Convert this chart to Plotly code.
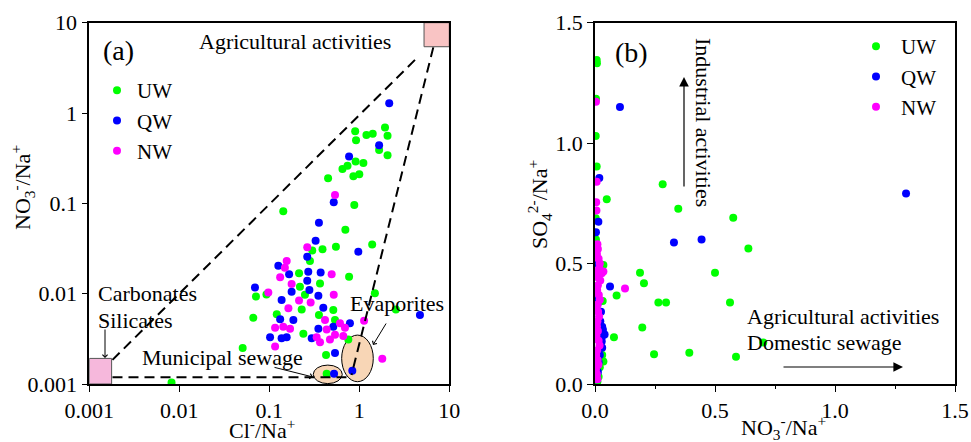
import plotly.graph_objects as go

# ---------------- Panel (a): Cl-/Na+ vs NO3-/Na+ (log-log) ----------------
uw_a_x = [0.90, 0.92, 1.20, 1.41, 1.93, 2.06, 1.66, 2.06, 0.91, 1.11, 0.65, 0.74, 0.86, 1.00,
          0.45, 0.88, 0.143, 0.70, 1.39, 0.55, 0.39, 0.30, 0.77, 1.49, 2.55,
          0.283, 0.214, 0.366, 0.0711, 0.093, 0.219, 0.249, 0.514, 0.229, 0.0664, 0.121,
          0.356, 0.537, 0.239, 0.755, 0.0506, 0.427, 0.434, 0.0082]
uw_a_y = [0.63, 0.50, 0.57, 0.59, 0.69, 0.56, 0.39, 0.34, 0.29, 0.28, 0.24, 0.26, 0.20, 0.21,
          0.19, 0.096, 0.082, 0.051, 0.035, 0.033, 0.031, 0.030, 0.0154, 0.0101, 0.0067,
          0.023, 0.0168, 0.013, 0.0093, 0.0098, 0.0119, 0.0097, 0.0066, 0.0067, 0.0054, 0.0059,
          0.0058, 0.0051, 0.0036, 0.0031, 0.0025, 0.0021, 0.0013, 0.00104]

qw_a_x = [2.15, 1.66, 0.77, 0.52, 0.356, 0.327, 0.975, 0.264, 0.126, 0.166, 0.271, 0.372,
          0.264, 0.0693, 0.177, 0.279, 0.351, 0.137, 0.398, 0.132, 0.185, 0.787, 0.351,
          0.514, 0.102, 0.137, 0.156, 0.296, 0.537, 0.836, 0.524, 4.72]
qw_a_y = [1.28, 0.44, 0.33, 0.103, 0.061, 0.0386, 0.0292, 0.0257, 0.0204, 0.0164, 0.0175, 0.0172,
          0.0139, 0.0117, 0.0105, 0.0110, 0.0095, 0.0085, 0.0070, 0.0052, 0.0051, 0.0047, 0.0041,
          0.0043, 0.0033, 0.0032, 0.0033, 0.0032, 0.0022, 0.0014, 0.0013, 0.0058]

nw_a_x = [0.537, 0.264, 0.156, 0.149, 0.132, 0.493, 0.177, 0.0975, 0.214, 0.288, 0.163, 0.416,
          0.61, 1.13, 0.116, 0.143, 0.170, 0.434, 0.693, 0.116, 0.336, 0.366, 0.472, 0.537,
          0.664, 1.80, 0.52]
nw_a_y = [0.124, 0.0326, 0.023, 0.0194, 0.0152, 0.0164, 0.0128, 0.0103, 0.0084, 0.0080, 0.0069,
          0.0051, 0.0047, 0.0050, 0.0042, 0.0043, 0.0041, 0.0040, 0.0042, 0.0026, 0.0033, 0.0029,
          0.0031, 0.0035, 0.0034, 0.0019, 0.0097]

# boundary (dashed) lines of the end-member triangle
line_upper_x = [0.00181, 4.52]
line_upper_y = [0.00185, 4.21]
line_right_x = [6.64, 0.82]
line_right_y = [5.33, 0.00126]
line_bottom_x = [0.00181, 0.82]
line_bottom_y = [0.00119, 0.00119]

# ---------------- Panel (b): NO3-/Na+ vs SO4 2-/Na+ ----------------
uw_b_x = [0.007, 0.008, 0.004, 0.003, 0.007, 0.004, 0.003, 0.049, 0.282, 0.347, 0.576, 0.639,
          0.50, 0.1875, 0.204, 0.090, 0.264, 0.296, 0.5625, 0.197, 0.079, 0.246, 0.393,
          0.5875, 0.701, 0.035, 0.032, 0.035, 0.030, 0.020, 0.025, 0.015, 0.010]
uw_b_y = [1.345, 1.332, 1.184, 1.030, 0.903, 0.600, 0.688, 0.767, 0.829, 0.728, 0.690, 0.563,
          0.462, 0.462, 0.418, 0.367, 0.338, 0.338, 0.338, 0.235, 0.194, 0.123, 0.130,
          0.113, 0.172, 0.494, 0.345, 0.093, 0.120, 0.070, 0.150, 0.030, 0.010]

qw_b_x = [0.104, 1.296, 0.329, 0.444, 0.0625, 0.018, 0.014, 0.004, 0.005, 0.030, 0.035, 0.040,
          0.028, 0.022, 0.030, 0.025, 0.020, 0.015, 0.012, 0.010, 0.006, 0.004, 0.033, 0.026]
qw_b_y = [1.150, 0.791, 0.587, 0.600, 0.405, 0.855, 0.674, 0.630, 0.500, 0.238, 0.203, 0.206,
          0.176, 0.260, 0.150, 0.300, 0.120, 0.090, 0.050, 0.330, 0.020, 0.350, 0.225, 0.185]

nw_b_x = [0.004, 0.007, 0.005, 0.006, 0.035, 0.028, 0.125, 0.010, 0.012, 0.008, 0.015, 0.020,
          0.018, 0.010, 0.006, 0.014, 0.022, 0.012, 0.009, 0.016, 0.020, 0.011, 0.007, 0.013,
          0.017, 0.010, 0.008, 0.012, 0.006, 0.015, 0.019, 0.009, 0.005, 0.011, 0.014, 0.004,
          0.008, 0.010]
nw_b_y = [1.172, 0.840, 0.755, 0.720, 0.467, 0.460, 0.397, 0.580, 0.560, 0.540, 0.520, 0.500,
          0.480, 0.470, 0.450, 0.440, 0.430, 0.410, 0.390, 0.370, 0.350, 0.330, 0.310, 0.300,
          0.280, 0.260, 0.240, 0.220, 0.200, 0.180, 0.160, 0.140, 0.120, 0.100, 0.080, 0.060,
          0.040, 0.020]

log_tickvals = [0.001, 0.01, 0.1, 1, 10]
log_ticktext = ["0.001", "0.01", "0.1", "1", "10"]
lin_tickvals = [0.0, 0.5, 1.0, 1.5]
lin_ticktext = ["0.0", "0.5", "1.0", "1.5"]

FONT = "Liberation Serif"
GREEN, BLUE, MAGENTA = "#00FF00", "#0000FF", "#FF00FF"
W, H = 971, 442

fig = go.Figure()

mk = dict(size=8, line=dict(width=0))
for name, xs, ys, col in [("UW", uw_a_x, uw_a_y, GREEN), ("QW", qw_a_x, qw_a_y, BLUE),
                          ("NW", nw_a_x, nw_a_y, MAGENTA)]:
    fig.add_trace(go.Scatter(x=xs, y=ys, mode="markers", name=name, xaxis="x", yaxis="y",
                             marker=dict(color=col, **mk), legend="legend"))

for xs, ys in [(line_upper_x, line_upper_y), (line_right_x, line_right_y),
               (line_bottom_x, line_bottom_y)]:
    fig.add_trace(go.Scatter(x=xs, y=ys, mode="lines", xaxis="x", yaxis="y", showlegend=False,
                             line=dict(color="black", width=2, dash="10px,6px"), hoverinfo="skip"))

for name, xs, ys, col in [("UW", uw_b_x, uw_b_y, GREEN), ("QW", qw_b_x, qw_b_y, BLUE),
                          ("NW", nw_b_x, nw_b_y, MAGENTA)]:
    fig.add_trace(go.Scatter(x=xs, y=ys, mode="markers", name=name, xaxis="x2", yaxis="y2",
                             marker=dict(color=col, **mk), legend="legend2"))

def px(x):
    return x / W

def py(y):
    return 1 - y / H

axis_common = dict(showline=True, linecolor="black", linewidth=1.6, mirror=True,
                   ticks="outside", ticklen=6, tickwidth=1.4, tickcolor="black",
                   showgrid=False, zeroline=False, automargin=False,
                   tickfont=dict(family=FONT, size=22, color="black"))

fig.update_layout(
    template="none",
    width=W, height=H, margin=dict(l=0, r=0, t=0, b=0, autoexpand=False),
    paper_bgcolor="white", plot_bgcolor="white",
    font=dict(family=FONT, size=22, color="black"),
    xaxis=dict(type="log", range=[-3, 1], domain=[px(89.3), px(449.3)], anchor="y",
               tickvals=log_tickvals, ticktext=log_ticktext, **axis_common),
    yaxis=dict(type="log", range=[-3, 1], domain=[py(384), py(22.7)], anchor="x",
               tickvals=log_tickvals, ticktext=log_ticktext, **axis_common),
    xaxis2=dict(range=[0, 1.5], domain=[px(595), px(955)], anchor="y2",
                tickvals=lin_tickvals, ticktext=lin_ticktext,
                minor=dict(dtick=0.25, ticks="outside", ticklen=3, tickcolor="black"),
                **axis_common),
    yaxis2=dict(range=[0, 1.5], domain=[py(384), py(22.7)], anchor="x2",
                tickvals=lin_tickvals, ticktext=lin_ticktext, **axis_common),
    legend=dict(x=px(97), y=py(70), xanchor="left", yanchor="top", bgcolor="rgba(0,0,0,0)",
                font=dict(family=FONT, size=21), tracegroupgap=0, itemclick=False),
    legend2=dict(x=px(851), y=py(26), xanchor="left", yanchor="top", bgcolor="rgba(0,0,0,0)",
                 font=dict(family=FONT, size=21), tracegroupgap=0, itemclick=False,
                 itemwidth=40),
)

# end-member boxes and source ellipses (panel a)
fig.add_shape(type="rect", xref="x", yref="y", x0=0.001, x1=0.00177, y0=0.001, y1=0.00192,
              fillcolor="#F6B8DC", line=dict(color="#555555", width=1), layer="below")
fig.add_shape(type="rect", xref="x", yref="y", x0=5.24, x1=10, y0=5.42, y1=10,
              fillcolor="#F9C4C4", line=dict(color="#555555", width=1), layer="below")
fig.add_shape(type="circle", xref="x", yref="y", x0=0.308, x1=0.647, y0=0.00101, y1=0.00162,
              fillcolor="#F8D6B6", line=dict(color="black", width=1), layer="below")
fig.add_shape(type="circle", xref="x", yref="y", x0=0.637, x1=1.43, y0=0.00106, y1=0.00348,
              fillcolor="#F8D6B6", line=dict(color="black", width=1), layer="below")

def text(t, x, y, xa="center", ya="middle", size=22, angle=0):
    fig.add_annotation(text=t, x=px(x), y=py(y), xref="paper", yref="paper", showarrow=False,
                       xanchor=xa, yanchor=ya, textangle=angle,
                       font=dict(family=FONT, size=size, color="black"))

def arrow(hx, hy, ax, ay, head=4, size=1.0, width=1.0):
    fig.add_annotation(text="", x=px(hx), y=py(hy), xref="paper", yref="paper", showarrow=True,
                       ax=ax, ay=ay, axref="pixel", ayref="pixel", arrowhead=head,
                       arrowsize=size, arrowwidth=width, arrowcolor="black")

# panel (a) texts
text("(a)", 118, 50, size=28)
text("Agricultural activities", 295, 41)
text("Carbonates", 96, 293, xa="left")
text("Silicates", 96, 320, xa="left")
text("Municipal sewage", 140, 357, xa="left")
text("Evaporites", 348, 303, xa="left")
text("Cl<sup>-</sup>/Na<sup>+</sup>", 262, 429)
text("NO<sub>3</sub><sup>-</sup>/Na<sup>+</sup>", 22, 188, angle=-90)
arrow(105, 358, 0, -30)
arrow(313, 377, -40, -10)
arrow(373, 345, 14, -23)

# panel (b) texts
text("(b)", 631, 52, size=28)
text("Industrial activities", 704, 122, angle=90)
text("Agricultural activities", 745, 316, xa="left")
text("Domestic sewage", 745, 342, xa="left")
text("NO<sub>3</sub><sup>-</sup>/Na<sup>+</sup>", 783, 427)
text("SO<sub>4</sub><sup>2-</sup>/Na<sup>+</sup>", 539, 205, angle=-90)
arrow(684, 77, 0, 111, head=2, size=1.6, width=1.2)
arrow(903, 367, -121, 0, head=2, size=1.6, width=1.2)

fig.write_html("out.html")
